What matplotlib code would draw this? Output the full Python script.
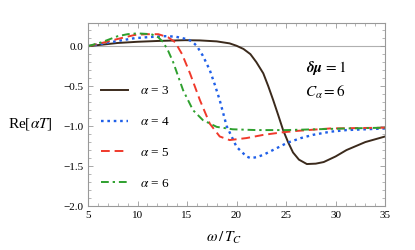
import matplotlib
matplotlib.use("Agg")
import matplotlib.pyplot as plt
from matplotlib.ticker import MultipleLocator

plt.rcParams['font.family'] = ['Liberation Serif', 'DejaVu Serif']
plt.rcParams['mathtext.fontset'] = 'stix'

# values (omega/T_c, Re[alpha T])
x3 = [5, 6.5, 8, 10, 12, 14.8, 16.3, 18, 19.3, 20, 20.7, 21.4, 22, 22.7, 23.2, 23.7, 24.2, 24.7, 25.2, 25.7, 26.3, 27.1, 28, 28.8, 30, 31.1, 33, 35]
y3 = [0, 0.02, 0.04, 0.055, 0.065, 0.075, 0.072, 0.06, 0.035, 0.005, -0.035, -0.1, -0.2, -0.34, -0.5, -0.675, -0.86, -1.05, -1.2, -1.33, -1.42, -1.475, -1.47, -1.45, -1.38, -1.3, -1.2, -1.13]

x4 = [5, 6.4, 8, 9.7, 11.3, 12.8, 13.8, 15.1, 15.6, 16, 16.6, 17.3, 17.8, 18.3, 19, 20, 21, 21.4, 22, 22.7, 24, 25.1, 26.5, 27.7, 29.5, 31.1, 33, 35]
y4 = [0, 0.03, 0.065, 0.1, 0.115, 0.125, 0.12, 0.085, 0.05, 0.0, -0.12, -0.3, -0.48, -0.675, -1.0, -1.26, -1.38, -1.4, -1.39, -1.36, -1.28, -1.21, -1.15, -1.11, -1.07, -1.05, -1.04, -1.03]

x5 = [5, 6.4, 8, 9.7, 10.9, 12.1, 13.1, 13.8, 14.5, 15.3, 16.3, 17.3, 18.3, 19.3, 21, 22.7, 24.5, 26.1, 29.4, 32, 35]
y5 = [0, 0.04, 0.09, 0.14, 0.15, 0.15, 0.11, 0.05, -0.1, -0.34, -0.675, -0.97, -1.13, -1.175, -1.15, -1.11, -1.08, -1.06, -1.03, -1.025, -1.02]

x6 = [5, 6.4, 8, 9, 10, 11.4, 12.1, 12.6, 13.1, 13.6, 14.6, 15.6, 16.6, 18, 19.6, 22, 25, 28, 31, 35]
y6 = [0, 0.05, 0.125, 0.15, 0.16, 0.15, 0.11, 0.05, -0.06, -0.2, -0.55, -0.8, -0.925, -1.01, -1.04, -1.05, -1.05, -1.04, -1.03, -1.02]

labels = [r'$\alpha$ = 3', r'$\alpha$ = 4', r'$\alpha$ = 5', r'$\alpha$ = 6']
colors = ['#3b2a1c', '#1f5fe8', '#f0392b', '#2ea02e']

fig = plt.figure(figsize=(4.15, 2.5), dpi=100)
ax = fig.add_axes([0.212, 0.176, 0.716, 0.732])

ax.axhline(0, color='#b0b0b0', lw=0.8, zorder=1)
ax.plot(x3, y3, color=colors[0], lw=1.4, label=labels[0])
ax.plot(x4, y4, color=colors[1], lw=1.7, ls=(0, (1.1, 1.6)), label=labels[1])
ax.plot(x5, y5, color=colors[2], lw=1.4, ls=(0, (4.5, 2.5)), label=labels[2])
ax.plot(x6, y6, color=colors[3], lw=1.4, ls=(0, (4, 2, 1.2, 2)), label=labels[3])

ax.set_xlim(5, 35)
ax.set_ylim(-2.0, 0.29)
ax.xaxis.set_major_locator(MultipleLocator(5))
ax.xaxis.set_minor_locator(MultipleLocator(1))
ax.yaxis.set_major_locator(MultipleLocator(0.5))
ax.yaxis.set_minor_locator(MultipleLocator(0.1))
ax.tick_params(which='both', direction='in', top=True, right=True, colors='#999999', labelcolor='black', labelsize=8)
ax.tick_params(which='major', length=3.5, width=0.6)
ax.tick_params(which='minor', length=2, width=0.5)
for s in ax.spines.values():
    s.set_color('#999999')
    s.set_linewidth(0.8)

leg = ax.legend(loc='upper left', bbox_to_anchor=(0.005, 0.725), frameon=False, fontsize=9.5,
                handlelength=2.0, handletextpad=0.9, labelspacing=1.4)

ax.text(0.80, 0.754, r'$\boldsymbol{\delta\mu}$$\,=1$', transform=ax.transAxes, ha='center', va='center', fontsize=11)
ax.text(0.80, 0.62, r'$C_\alpha = 6$', transform=ax.transAxes, ha='center', va='center', fontsize=11)

fig.text(0.073, 0.505, r'Re[$\alpha T$]', ha='center', va='center', fontsize=11)
fig.text(0.54, 0.05, r'$\omega\,/\,T_C$', ha='center', va='center', fontsize=11)

fig.savefig('out.png', dpi=100)
